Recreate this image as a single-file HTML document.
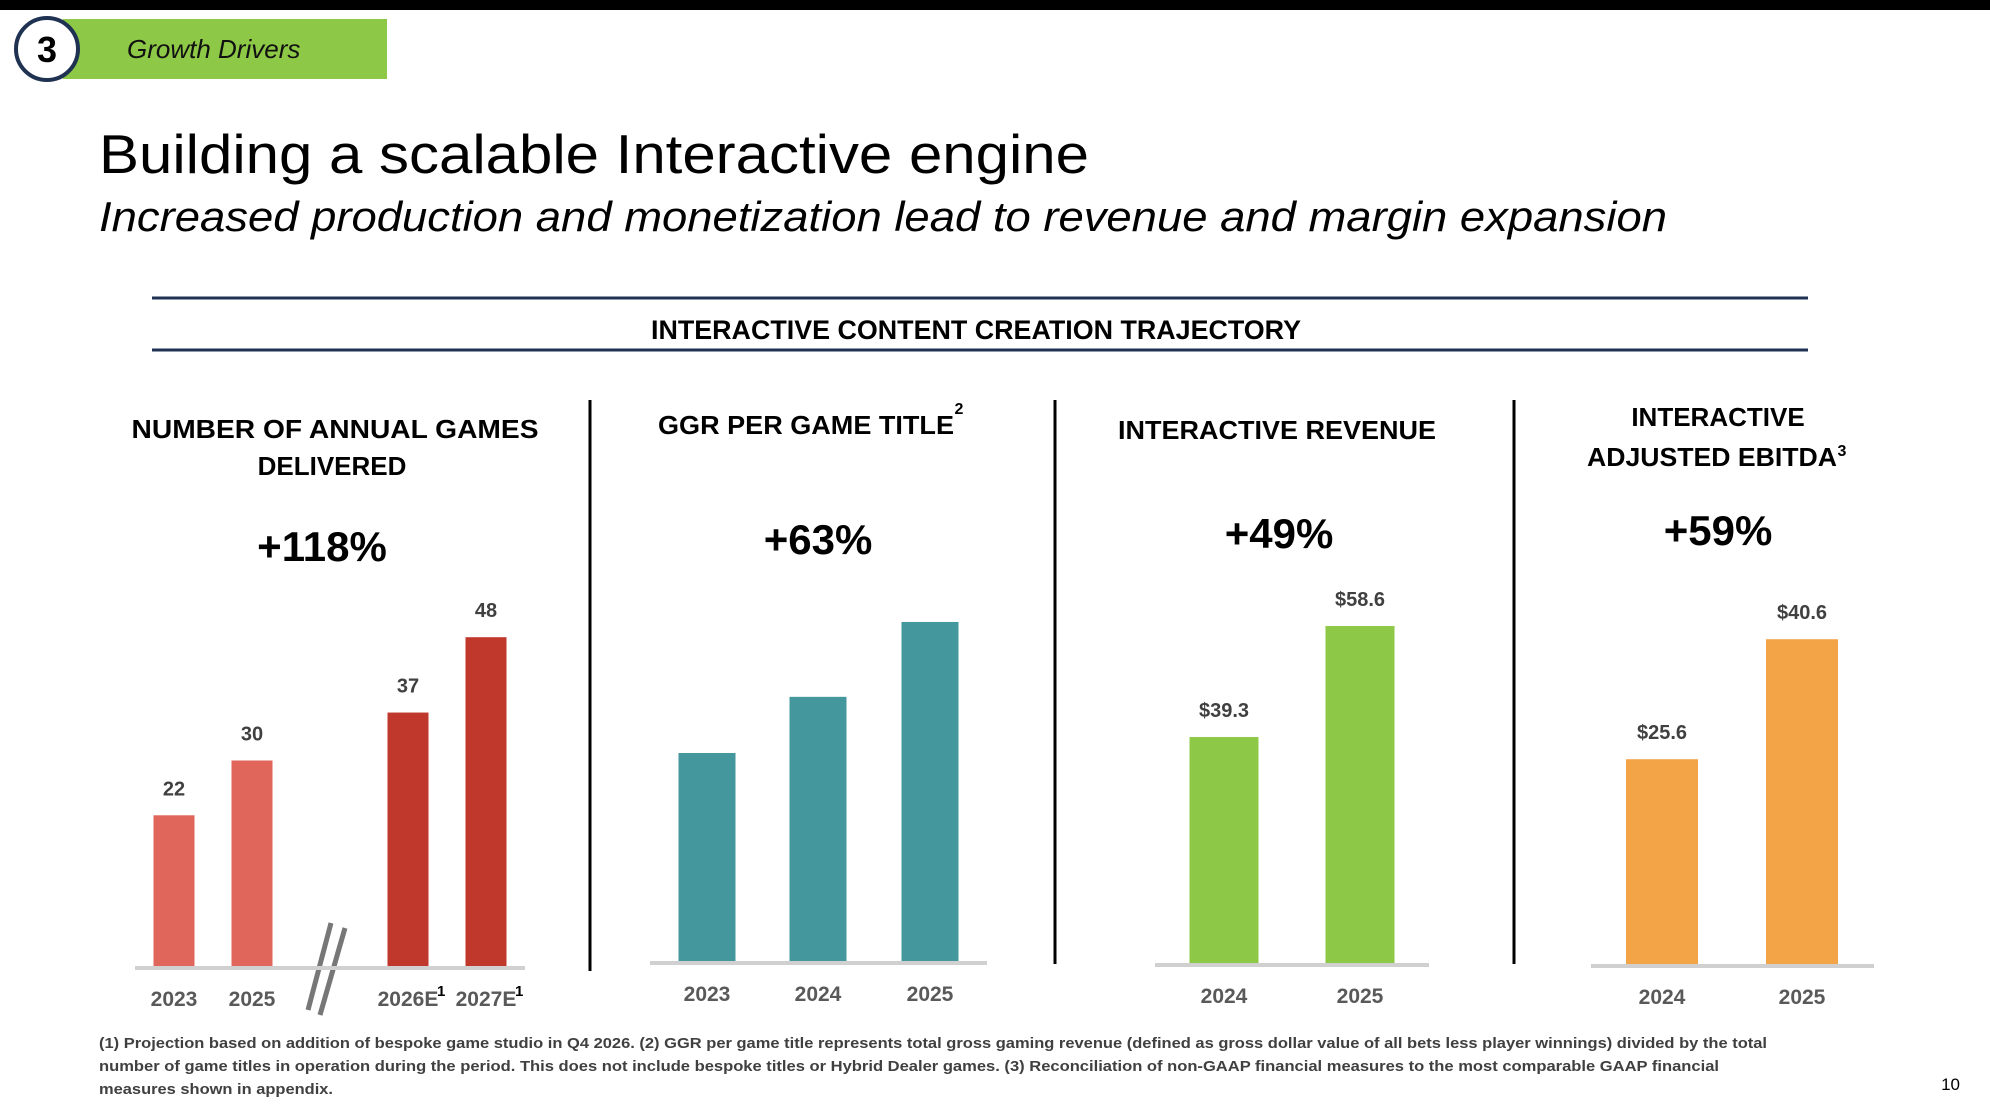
<!DOCTYPE html>
<html><head><meta charset="utf-8"><style>
body{margin:0;background:#fff;width:1990px;height:1120px;overflow:hidden}
svg{display:block;font-family:"Liberation Sans",sans-serif}
</style></head><body>
<svg id="s" width="1990" height="1120" viewBox="0 0 1990 1120">
<rect x="0" y="0" width="1990" height="10" fill="#000"/>
<rect x="63" y="19" width="324" height="60" fill="#8DC846"/>
<circle cx="47" cy="49" r="31" fill="#fff" stroke="#1F3251" stroke-width="4"/>
<text x="47" y="62" text-anchor="middle" font-size="36" font-weight="bold" fill="#000">3</text>
<text x="127" y="58" font-size="26" font-style="italic" fill="#111">Growth Drivers</text>
<text x="99" y="173" font-size="55" fill="#000" textLength="990" lengthAdjust="spacingAndGlyphs">Building a scalable Interactive engine</text>
<text x="99" y="231" font-size="42" font-style="italic" fill="#000" textLength="1568" lengthAdjust="spacingAndGlyphs">Increased production and monetization lead to revenue and margin expansion</text>
<line x1="152" y1="298" x2="1808" y2="298" stroke="#1F3251" stroke-width="3"/>
<line x1="152" y1="350" x2="1808" y2="350" stroke="#1F3251" stroke-width="3"/>
<text x="976" y="339" text-anchor="middle" font-size="27" font-weight="bold" fill="#000" textLength="650" lengthAdjust="spacingAndGlyphs">INTERACTIVE CONTENT CREATION TRAJECTORY</text>
<line x1="590" y1="400" x2="590" y2="971" stroke="#000" stroke-width="3"/>
<line x1="1055" y1="400" x2="1055" y2="964" stroke="#000" stroke-width="3"/>
<line x1="1514" y1="400" x2="1514" y2="964" stroke="#000" stroke-width="3"/>
<g font-weight="bold" fill="#000" font-size="26" text-anchor="middle">
<text x="335" y="438" textLength="407" lengthAdjust="spacingAndGlyphs">NUMBER OF ANNUAL GAMES</text>
<text x="332" y="475">DELIVERED</text>
<text x="806" y="434" textLength="296" lengthAdjust="spacingAndGlyphs">GGR PER GAME TITLE</text>
<text x="959" y="414" font-size="16">2</text>
<text x="1277" y="439" textLength="318" lengthAdjust="spacingAndGlyphs">INTERACTIVE REVENUE</text>
<text x="1718" y="426">INTERACTIVE</text>
<text x="1712" y="466" textLength="250" lengthAdjust="spacingAndGlyphs">ADJUSTED EBITDA</text>
<text x="1842" y="456" font-size="16">3</text>
<text x="322" y="561" font-size="42">+118%</text>
<text x="818" y="554" font-size="42">+63%</text>
<text x="1279" y="548" font-size="42">+49%</text>
<text x="1718" y="545" font-size="42">+59%</text>
</g>
<line x1="331" y1="923" x2="308" y2="1010" stroke="#777" stroke-width="5"/>
<line x1="345" y1="928" x2="320" y2="1015" stroke="#777" stroke-width="5"/>
<g font-size="15" font-weight="bold" fill="#404040">
<text x="99" y="1048" textLength="1668" lengthAdjust="spacingAndGlyphs">(1) Projection based on addition of bespoke game studio in Q4 2026. (2) GGR per game title represents total gross gaming revenue (defined as gross dollar value of all bets less player winnings) divided by the total</text>
<text x="99" y="1071" textLength="1620" lengthAdjust="spacingAndGlyphs">number of game titles in operation during the period.  This does not include bespoke titles or Hybrid Dealer games. (3) Reconciliation of non-GAAP financial measures to the most comparable GAAP financial</text>
<text x="99" y="1094" textLength="234" lengthAdjust="spacingAndGlyphs">measures shown in appendix.</text>
</g>
<text x="1960" y="1090" font-size="17" fill="#000" text-anchor="end">10</text>
<g id="charts"></g>
</svg>
<script>
// Panel 1: games delivered
const gamesCats = ["2023","2025","2026E","2027E"];
const gamesVals = [22,30,37,48];
const gamesLabels = ["22","30","37","48"];
const gamesFoot = ["","","1","1"];
// Panel 2: GGR per game title (index, unlabeled)
const ggrCats = ["2023","2024","2025"];
const ggrVals = [1.00,1.27,1.63];
// Panel 3: interactive revenue
const revCats = ["2024","2025"];
const revVals = [39.3,58.6];
const revLabels = ["$39.3","$58.6"];
// Panel 4: adjusted EBITDA
const ebitdaCats = ["2024","2025"];
const ebitdaVals = [25.6,40.6];
const ebitdaLabels = ["$25.6","$40.6"];

const NS="http://www.w3.org/2000/svg";
const g=document.getElementById('charts');
function mk(tag,attrs){const e=document.createElementNS(NS,tag);for(const k in attrs)e.setAttribute(k,attrs[k]);g.appendChild(e);return e;}

function panel(cfg,cats,vals,labels,foot){
  const y=v=>cfg.base - v*cfg.scale;
  const ax=mk('line',{x1:cfg.ax0,x2:cfg.ax1,y1:cfg.base+2,y2:cfg.base+2,stroke:'#D0D0D0','stroke-width':4});
  
  
  cats.forEach((c,i)=>{
    const cx=cfg.xs[i];
    const top=y(vals[i]);
    const r=mk('rect',{x:cx-cfg.w/2,y:top,width:cfg.w,height:cfg.base-top,fill:cfg.colors?cfg.colors[i]:cfg.color});
    
    
    if(labels){
      const t=mk('text',{x:cx,y:top-20,'text-anchor':'middle','font-size':20,'font-weight':'bold',fill:'#404040'});
      t.textContent=labels[i];
      
      
    }
    const xl=mk('text',{x:cx,y:cfg.base+40,'text-anchor':'middle','font-size':21,'font-weight':'bold',fill:'#595959'});
    xl.textContent=c;
    
    
    if(foot&&foot[i]){
      const f=mk('text',{x:cx+29,y:cfg.base+30,'font-size':15,'font-weight':'bold',fill:'#000'});
      f.textContent=foot[i];
      
      
    }
  });
}
panel({name:'games',base:966,scale:6.85,w:41,xs:[174,252,408,486],ax0:135,ax1:525,colors:['#E0655A','#E0655A','#C0372B','#C0372B']},gamesCats,gamesVals,gamesLabels,gamesFoot);
panel({name:'ggr',base:961,scale:208,w:57,xs:[707,818,930],ax0:650,ax1:987,color:'#45979E'},ggrCats,ggrVals,null,null);
panel({name:'revenue',base:963,scale:5.75,w:69,xs:[1224,1360],ax0:1155,ax1:1429,color:'#8DC846'},revCats,revVals,revLabels,null);
panel({name:'ebitda',base:964,scale:8.0,w:72,xs:[1662,1802],ax0:1591,ax1:1874,color:'#F2A446'},ebitdaCats,ebitdaVals,ebitdaLabels,null);
</script>
</body></html>
